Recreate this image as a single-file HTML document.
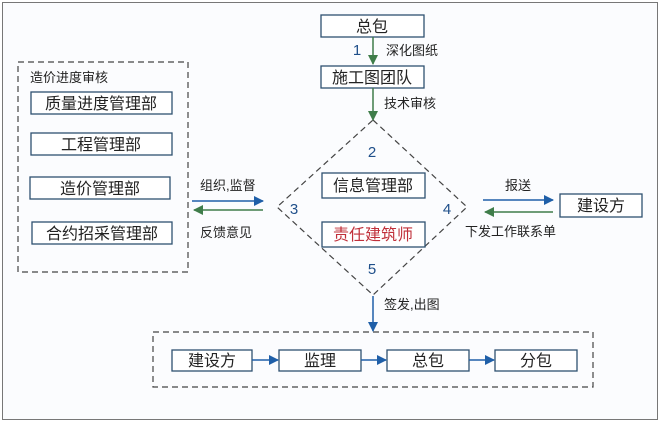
<!DOCTYPE html>
<html><head><meta charset="utf-8"><style>
html,body{margin:0;padding:0;background:#fff;}
svg{display:block;}
text{font-family:"Liberation Sans","Noto Sans CJK SC",sans-serif;fill:#222;}
</style></head><body>
<svg width="660" height="422" viewBox="0 0 660 422" xmlns="http://www.w3.org/2000/svg">
<defs>
<marker id="ab" markerWidth="10" markerHeight="10" refX="9" refY="5" orient="auto" markerUnits="userSpaceOnUse"><path d="M0,0 L10,5 L0,10 z" fill="#1f5fa8"/></marker>
<marker id="ag" markerWidth="10" markerHeight="10" refX="9" refY="5" orient="auto" markerUnits="userSpaceOnUse"><path d="M0,0 L10,5 L0,10 z" fill="#3f7d4a"/></marker>
</defs>
<rect x="2.5" y="2.5" width="655" height="417" fill="#fbfcfe" stroke="#777" stroke-width="1"/>
<g fill="none" stroke="#444" stroke-width="1.2" stroke-dasharray="6,4">
<rect x="18" y="62" width="170" height="210"/>
<rect x="153" y="332" width="440" height="55"/>
<path d="M373,120 L467,207 L373,295 L277,207 Z"/>
</g>
<g fill="#fff" stroke="#2e5170" stroke-width="1.3">
<rect x="321" y="15" width="103" height="22"/>
<rect x="321" y="66" width="103" height="22"/>
<rect x="31" y="92" width="141" height="22"/>
<rect x="31" y="133" width="141" height="22"/>
<rect x="30" y="177" width="140" height="22"/>
<rect x="32" y="222" width="140" height="22"/>
<rect x="322" y="173" width="103" height="25"/>
<rect x="322" y="222" width="103" height="25"/>
<rect x="560" y="194" width="82" height="23"/>
<rect x="172" y="350" width="80" height="21"/>
<rect x="279" y="350" width="82" height="21"/>
<rect x="387" y="350" width="82" height="21"/>
<rect x="495" y="350" width="82" height="21"/>
</g>
<g stroke-width="1.5" fill="none">
<line x1="373" y1="37" x2="373" y2="64" stroke="#3f7d4a" marker-end="url(#ag)"/>
<line x1="373" y1="88" x2="373" y2="120" stroke="#3f7d4a" marker-end="url(#ag)"/>
<line x1="373" y1="296" x2="373" y2="331" stroke="#1f5fa8" marker-end="url(#ab)"/>
<line x1="192" y1="201" x2="263" y2="201" stroke="#1f5fa8" marker-end="url(#ab)"/>
<line x1="263" y1="210" x2="194" y2="210" stroke="#3f7d4a" marker-end="url(#ag)"/>
<line x1="483" y1="200" x2="553" y2="200" stroke="#1f5fa8" marker-end="url(#ab)"/>
<line x1="553" y1="212" x2="485" y2="212" stroke="#3f7d4a" marker-end="url(#ag)"/>
<line x1="252" y1="360" x2="278" y2="360" stroke="#1f5fa8" marker-end="url(#ab)"/>
<line x1="361" y1="360" x2="386" y2="360" stroke="#1f5fa8" marker-end="url(#ab)"/>
<line x1="469" y1="360" x2="494" y2="360" stroke="#1f5fa8" marker-end="url(#ab)"/>
</g>
<g font-size="16" text-anchor="middle">
<text x="372" y="32">总包</text>
<text x="372" y="83">施工图团队</text>
<text x="101" y="109">质量进度管理部</text>
<text x="101" y="150">工程管理部</text>
<text x="100" y="194">造价管理部</text>
<text x="102" y="239">合约招采管理部</text>
<text x="373" y="191">信息管理部</text>
<text x="373" y="240" style="fill:#c0303a">责任建筑师</text>
<text x="601" y="211">建设方</text>
<text x="212" y="366">建设方</text>
<text x="320" y="366">监理</text>
<text x="428" y="366">总包</text>
<text x="536" y="366">分包</text>
</g>
<g font-size="13">
<text x="386" y="55">深化图纸</text>
<text x="384" y="108">技术审核</text>
<text x="384" y="309">签发,出图</text>
<text x="30" y="82">造价进度审核</text>
<text x="200" y="190">组织,监督</text>
<text x="200" y="237">反馈意见</text>
<text x="505" y="190">报送</text>
<text x="465" y="236">下发工作联系单</text>
</g>
<g font-size="15" text-anchor="middle">
<text x="357" y="55" style="fill:#1f4f8a">1</text>
<text x="372" y="157" style="fill:#1f4f8a">2</text>
<text x="294" y="214" style="fill:#1f4f8a">3</text>
<text x="447" y="214" style="fill:#1f4f8a">4</text>
<text x="372" y="274" style="fill:#1f4f8a">5</text>
</g>
</svg>
</body></html>
